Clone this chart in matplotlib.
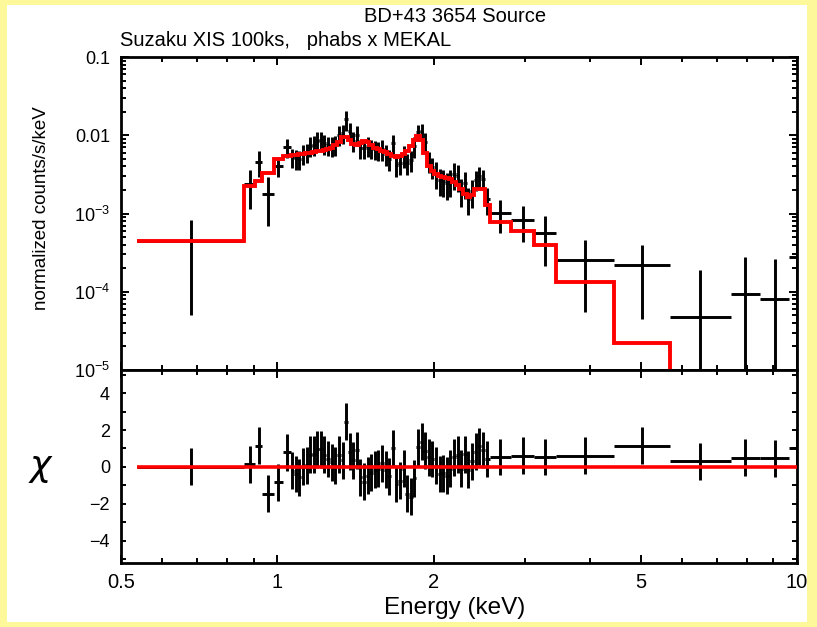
import matplotlib
matplotlib.use('Agg')
import matplotlib.pyplot as plt
import numpy as np
from matplotlib.ticker import FixedLocator, FixedFormatter, NullFormatter
from matplotlib.patches import Rectangle

plt.rcParams['font.family'] = ['Liberation Sans', 'DejaVu Sans']
plt.rcParams['mathtext.fontset'] = 'custom'
plt.rcParams['mathtext.rm'] = 'Liberation Sans'
plt.rcParams['mathtext.it'] = 'Liberation Sans'

# ---------------- data ----------------
bin_edges = [0.537, 0.864, 0.904, 0.936, 0.983, 1.023,
             1.060, 1.077, 1.094, 1.111, 1.129, 1.147, 1.165, 1.184, 1.203, 1.222,
             1.242, 1.262, 1.282, 1.303, 1.324, 1.345, 1.366, 1.388, 1.410, 1.433,
             1.456, 1.479, 1.503, 1.527, 1.552, 1.577, 1.602, 1.628, 1.654, 1.681,
             1.708, 1.735, 1.763, 1.791, 1.820, 1.849, 1.879, 1.909, 1.940, 1.971,
             2.003, 2.035, 2.068, 2.101, 2.135, 2.169, 2.204, 2.240, 2.276, 2.313,
             2.350, 2.388, 2.427, 2.466, 2.506, 2.560,
             2.82, 3.12, 3.44, 4.44, 5.69, 7.46, 8.49, 9.65, 10.4]

model = [4.4e-4, 2.26e-3, 2.6e-3, 3.3e-3, 5.0e-3, 5.5e-3,
         5.55e-3, 5.6e-3, 5.7e-3, 5.8e-3, 5.9e-3, 6.0e-3, 6.1e-3, 6.2e-3, 6.3e-3, 6.4e-3,
         6.6e-3, 6.9e-3, 7.4e-3, 8.3e-3, 9.6e-3, 9.5e-3, 8.7e-3, 7.7e-3, 7.6e-3, 7.9e-3,
         8.4e-3, 8.3e-3, 7.4e-3, 6.9e-3, 6.6e-3, 6.3e-3, 6.1e-3, 5.8e-3, 5.5e-3, 5.35e-3,
         5.4e-3, 5.7e-3, 6.3e-3, 7.2e-3, 8.6e-3, 9.7e-3, 8.6e-3, 6.0e-3, 4.0e-3, 3.45e-3,
         3.2e-3, 3.05e-3, 2.95e-3, 2.85e-3, 2.72e-3, 2.55e-3, 2.3e-3, 2.05e-3, 1.8e-3, 1.62e-3,
         1.7e-3, 2.07e-3, 2.07e-3, 2.07e-3, 1.3e-3,
         7.8e-4, 6.0e-4, 3.9e-4, 1.35e-4, 2.2e-5, 3.0e-6, 5e-7, 2e-7, 1e-7]

flux = [4.4e-4, 2.4e-3, 4.59e-3, 1.79e-3, 4.06e-3, 7.09e-3,
        5.26e-3, 5.06e-3, 4.94e-3, 5.8e-3, 6.07e-3, 7.39e-3, 7.59e-3, 8.52e-3, 8.65e-3, 7.88e-3,
        7.5e-3, 7.42e-3, 7.55e-3, 1.022e-2, 1.064e-2, 1.6e-2, 1.133e-2, 8.54e-3, 1.016e-2, 6.85e-3,
        6.86e-3, 7.33e-3, 6.83e-3, 6.62e-3, 6.42e-3, 6.70e-3, 5.84e-3, 5.04e-3, 7.86e-3, 4.21e-3,
        4.41e-3, 5.53e-3, 4.39e-3, 4.86e-3, 7.29e-3, 1.1e-2, 1.15e-2, 8.15e-3, 4.74e-3, 3.96e-3,
        3.29e-3, 2.67e-3, 2.62e-3, 2.42e-3, 2.62e-3, 3.18e-3, 3.05e-3, 1.97e-3, 2.45e-3, 1.53e-3,
        1.92e-3, 2.7e-3, 3.0e-3, 2.8e-3, 1.55e-3,
        1.02e-3, 8.3e-4, 5.66e-4, 2.55e-4, 2.2e-4, 4.75e-5, 9.4e-5, 8.1e-5, 2.8e-4]

flux_err = [3.9e-4, 1.25e-3, 1.7e-3, 1.1e-3, 1.14e-3, 1.98e-3,
            1.47e-3, 1.42e-3, 1.38e-3, 1.62e-3, 1.70e-3, 2.07e-3, 2.12e-3, 2.38e-3, 2.42e-3, 2.21e-3,
            2.1e-3, 2.08e-3, 2.11e-3, 2.86e-3, 2.98e-3, 4.5e-3, 3.17e-3, 2.39e-3, 2.84e-3, 1.92e-3,
            1.92e-3, 2.05e-3, 1.91e-3, 1.85e-3, 1.80e-3, 2.01e-3, 1.75e-3, 1.51e-3, 2.36e-3, 1.26e-3,
            1.32e-3, 1.66e-3, 1.32e-3, 1.46e-3, 2.19e-3, 2.6e-3, 2.5e-3, 2.45e-3, 1.42e-3, 1.19e-3,
            1.25e-3, 1.01e-3, 1.0e-3, 0.92e-3, 1.0e-3, 1.21e-3, 1.16e-3, 0.75e-3, 0.93e-3, 0.58e-3,
            0.73e-3, 0.75e-3, 0.9e-3, 0.8e-3, 0.59e-3,
            4.6e-4, 4.0e-4, 3.5e-4, 2.0e-4, 1.75e-4, 1.43e-4, 1.85e-4, 1.8e-4, 2.8e-4]

chi = [0.0, 0.15, 1.14, -1.46, -0.83, 0.8,
       -0.2, -0.38, -0.55, 0.0, 0.1, 0.67, 0.7, 0.97, 0.97, 0.67,
       0.43, 0.25, 0.07, 0.67, 0.35, 2.45, 0.83, 0.35, 0.9, -0.55,
       -0.8, -0.47, -0.3, -0.15, -0.1, 0.2, -0.15, -0.5, 1.0, -0.9,
       -0.75, -0.1, -1.45, -1.6, -0.6, 1.06, 1.37, 0.88, 0.52, 0.43,
       0.07, -0.38, -0.33, -0.47, -0.1, 0.52, 0.65, -0.1, 0.7, -0.15,
       0.3, 0.83, 1.12, 0.92, 0.43,
       0.54, 0.6, 0.54, 0.6, 1.14, 0.32, 0.49, 0.47, 1.0]
chi_err = 1.0

x_tick_values = [0.5, 1, 2, 5, 10]
x_tick_labels = ['0.5', '1', '2', '5', '10']
x_minor_values = [0.6, 0.7, 0.8, 0.9, 3, 4, 6, 7, 8, 9]
y_tick_values = [1e-5, 1e-4, 1e-3, 1e-2, 1e-1]
y_tick_labels = [r'$10^{-5}$', r'$10^{-4}$', r'$10^{-3}$', '0.01', '0.1']
chi_tick_values = [-4, -2, 0, 2, 4]
chi_tick_labels = ['\u22124', '\u22122', '0', '2', '4']
chi_minor_values = [-5, -3, -1, 1, 3, 5]

title = 'BD+43 3654 Source'
subtitle = 'Suzaku XIS 100ks,   phabs x MEKAL'

# ---------------- figure ----------------
W, H = 817, 627
fig = plt.figure(figsize=(W / 100, H / 100), dpi=100)
fig.patch.set_facecolor('#fdf99b')
fig.add_artist(Rectangle((7 / W, 1 - 622 / H), 803 / W, 617 / H, transform=fig.transFigure,
                         facecolor='white', edgecolor='none', zorder=-5))

L, R = 121 / W, 797 / W
ax1 = fig.add_axes([L, 1 - 370 / H, R - L, (370 - 57) / H])
ax2 = fig.add_axes([L, 1 - 563 / H, R - L, (563 - 370) / H])

edges = np.array(bin_edges)
lo, hi = edges[:-1], edges[1:]
centers = np.sqrt(lo * hi)
xerr = [centers - lo, hi - centers]

ax1.stairs(model, edges, baseline=None, color='#ff0000', lw=2.8, zorder=3)
ax1.errorbar(centers, flux, xerr=xerr, yerr=flux_err, fmt='none', ecolor='black',
             elinewidth=2.1, capsize=0, zorder=2)

ax2.hlines(0, edges[0], edges[-1], color='#ff0000', lw=2.6, zorder=3)
ax2.errorbar(centers, chi, xerr=xerr, yerr=chi_err, fmt='none', ecolor='black',
             elinewidth=2.1, capsize=0, zorder=2)

for ax in (ax1, ax2):
    ax.set_xscale('log')
    ax.set_xlim(0.5, 10)
    ax.xaxis.set_major_locator(FixedLocator(x_tick_values))
    ax.xaxis.set_minor_locator(FixedLocator(x_minor_values))
    ax.xaxis.set_minor_formatter(NullFormatter())
    ax.tick_params(which='both', direction='in', top=True, right=True, width=1.4, colors='black')
    ax.tick_params(which='major', length=6)
    ax.tick_params(which='minor', length=3.3)
    for s in ax.spines.values():
        s.set_linewidth(2.0)
    ax.set_facecolor('white')

ax1.set_yscale('log')
ax1.set_ylim(1e-5, 0.1)
ax1.yaxis.set_major_locator(FixedLocator(y_tick_values))
ax1.yaxis.set_major_formatter(FixedFormatter(y_tick_labels))
ax1.xaxis.set_major_formatter(NullFormatter())
ax1.tick_params(axis='y', labelsize=13, pad=8)

ax2.set_ylim(-5.2, 5.25)
ax2.yaxis.set_major_locator(FixedLocator(chi_tick_values))
ax2.yaxis.set_major_formatter(FixedFormatter(chi_tick_labels))
ax2.yaxis.set_minor_locator(FixedLocator(chi_minor_values))
ax2.yaxis.set_minor_formatter(NullFormatter())
ax2.tick_params(axis='y', which='both', length=3.8)
ax2.tick_params(axis='y', labelsize=13, pad=8)
ax2.xaxis.set_major_formatter(FixedFormatter(x_tick_labels))
ax2.tick_params(axis='x', labelsize=14.5, pad=7)

fig.text(455 / W, 1 - 17 / H, title, ha='center', va='center', fontsize=14.5)
fig.text(120 / W, 1 - 41 / H, subtitle, ha='left', va='center', fontsize=14.5)
fig.text(455 / W, 1 - 608 / H, 'Energy (keV)', ha='center', va='center', fontsize=17.5)
fig.text(42 / W, 1 - 208 / H, 'normalized counts/s/keV', rotation=90, ha='center', va='center',
         fontsize=13.5)
fig.text(40 / W, 1 - 466 / H, '\u03c7', ha='center', va='center', fontsize=26,
         family=['DejaVu Sans'], style='italic')

fig.add_artist(Rectangle((807 / W, 0), 10 / W, 1, transform=fig.transFigure,
                         facecolor='#fdf99b', edgecolor='none', zorder=20))

fig.savefig('out.png', dpi=100, facecolor=fig.get_facecolor())
